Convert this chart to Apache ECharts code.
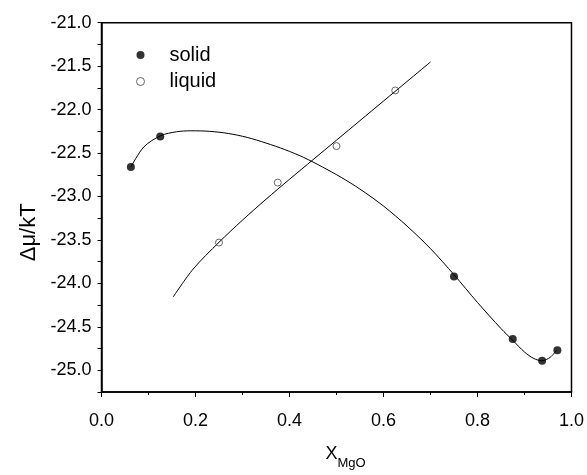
<!DOCTYPE html>
<html>
<head>
<meta charset="utf-8">
<script src="https://cdn.jsdelivr.net/npm/echarts@6/dist/echarts.min.js"></script>
<style>
  html, body { margin: 0; padding: 0; background: #fff; }
  #chart { width: 587px; height: 475px; }
</style>
</head>
<body>
<div id="chart"></div>
<script>
// measured points
const solidX = [0.0625, 0.125, 0.75, 0.875, 0.9375, 0.97]
const solidY = [-22.66, -22.31, -23.92, -24.64, -24.89, -24.77]
const liquidX = [0.25, 0.375, 0.5, 0.625]
const liquidY = [-23.53, -22.84, -22.42, -21.78]

// fitted curves
const solidFitX = [0.0626, 0.09, 0.126, 0.16, 0.19, 0.23, 0.27, 0.31, 0.35, 0.39, 0.43, 0.47, 0.51, 0.55, 0.60, 0.65, 0.70, 0.75, 0.80, 0.85, 0.875, 0.90, 0.92, 0.937, 0.955, 0.968]
const solidFitY = [-22.66, -22.43, -22.30, -22.255, -22.244, -22.25, -22.275, -22.32, -22.385, -22.46, -22.55, -22.66, -22.78, -22.915, -23.11, -23.34, -23.60, -23.90, -24.22, -24.52, -24.655, -24.79, -24.865, -24.89, -24.85, -24.77]
const liquidFitX = [0.1525, 0.195, 0.25, 0.30, 0.35, 0.40, 0.45, 0.50, 0.55, 0.60, 0.65, 0.70]
const liquidFitY = [-24.156, -23.835, -23.527, -23.272, -23.032, -22.802, -22.577, -22.352, -22.127, -21.902, -21.677, -21.452]

const xTicks = [0, 0.2, 0.4, 0.6, 0.8, 1.0]
const yTicks = [-25.0, -24.5, -24.0, -23.5, -23.0, -22.5, -22.0, -21.5, -21.0]

const pairs = (xs, ys) => xs.map((x, i) => [x, ys[i]])

const chart = echarts.init(document.getElementById('chart'))

const font = 'Liberation Sans, Arial, sans-serif'

const option = {
  animation: false,
  textStyle: { fontFamily: font, color: '#000' },
  grid: {
    left: 101.5,
    right: 14.5,
    top: 22.7,
    bottom: 76,
    show: true,
    borderColor: '#000',
    borderWidth: 1.5
  },
  legend: {
    orient: 'vertical',
    left: 131,
    top: 40,
    itemWidth: 8,
    itemHeight: 8,
    itemGap: 6.5,
    textStyle: { fontSize: 20, color: '#000', fontFamily: font, padding: [0, 0, 0, 20] },
    data: [
      { name: 'solid', icon: 'circle', itemStyle: { color: '#000' } },
      { name: 'liquid', icon: 'circle', itemStyle: { color: 'transparent', borderColor: '#444', borderWidth: 1 } }
    ]
  },
  xAxis: {
    type: 'value',
    min: 0,
    max: 1,
    interval: 0.2,
    name: '{a|X}{b|MgO}',
    nameLocation: 'middle',
    nameGap: 47,
    nameTextStyle: {
      padding: [0, 0, 0, 18],
      rich: {
        a: { fontSize: 18, fontFamily: font, color: '#000' },
        b: { fontSize: 13, fontFamily: font, color: '#000', padding: [18, 0, 0, 0] }
      }
    },
    axisLine: { lineStyle: { color: '#000', width: 1.5 } },
    axisTick: { show: true, inside: false, length: 5, lineStyle: { color: '#000' } },
    minorTick: { show: true, splitNumber: 2, length: 3, lineStyle: { color: '#000' } },
    splitLine: { show: false },
    axisLabel: {
      fontSize: 18,
      color: '#000',
      margin: 20,
      formatter: v => xTicks.some(t => Math.abs(t - v) < 1e-6) ? v.toFixed(1) : ''
    }
  },
  yAxis: {
    type: 'value',
    min: -25.25,
    max: -21,
    interval: 0.25,
    name: 'Δμ/kT',
    nameLocation: 'middle',
    nameGap: 62,
    nameTextStyle: { fontSize: 22, color: '#000', padding: [0, 50, 0, 0] },
    axisLine: { lineStyle: { color: '#000', width: 1.5 } },
    axisTick: { show: true, inside: false, length: 4, lineStyle: { color: '#000' } },
    splitLine: { show: false },
    axisLabel: {
      fontSize: 18,
      color: '#000',
      margin: 10,
      formatter: v => yTicks.some(t => Math.abs(t - v) < 1e-6) ? v.toFixed(1) : ''
    }
  },
  series: [
    {
      name: 'solid fit',
      type: 'line',
      data: pairs(solidFitX, solidFitY),
      smooth: 0.3,
      showSymbol: false,
      lineStyle: { color: '#000', width: 1 },
      z: 2
    },
    {
      name: 'liquid fit',
      type: 'line',
      data: pairs(liquidFitX, liquidFitY),
      smooth: 0.3,
      showSymbol: false,
      lineStyle: { color: '#000', width: 1 },
      z: 2
    },
    {
      name: 'solid',
      type: 'scatter',
      data: pairs(solidX, solidY),
      symbol: 'circle',
      symbolSize: 8,
      itemStyle: { color: '#000' },
      z: 3
    },
    {
      name: 'liquid',
      type: 'scatter',
      data: pairs(liquidX, liquidY),
      symbol: 'circle',
      symbolSize: 7,
      itemStyle: { color: 'transparent', borderColor: '#444', borderWidth: 1 },
      z: 3
    }
  ]
}

chart.setOption(option)
</script>
</body>
</html>
